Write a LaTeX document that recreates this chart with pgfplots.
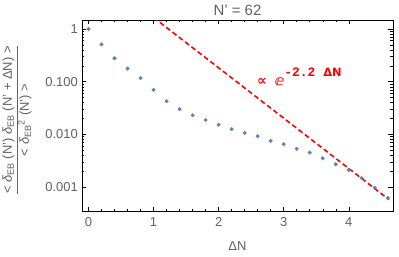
\documentclass[border=0pt]{standalone}
\usepackage{fontspec}
\setmainfont{Liberation Sans}
\newfontfamily\dejavu{DejaVu Sans}
\newfontfamily\monob{Liberation Mono}
\usepackage{pgfplots}
\pgfplotsset{compat=1.18}
\definecolor{txtgray}{rgb}{0.38,0.38,0.38}
\definecolor{ptblue}{HTML}{5E81B5}
\begin{document}
\begin{tikzpicture}
\begin{axis}[
  scale only axis,
  width=311bp, height=191bp,
  ymode=log,
  xmin=-0.1, xmax=4.68,
  ymin=3.5e-4, ymax=1.48,
  xtick={0,1,2,3,4},
  minor x tick num=4,
  ytick={0.001,0.01,0.1,1},
  yticklabels={0.001,0.010,0.100,1},
  tick align=inside,
  major tick length=4.5bp,
  minor tick length=2.5bp,
  every tick/.style={black, line width=0.45pt},
  axis line style={black, line width=0.8pt},
  tick label style={font=\fontsize{13}{15}\selectfont, text=txtgray},
  /pgf/number format/assume math mode=true,
  xticklabel style={anchor=base, inner sep=0pt, yshift=-15.6bp},
  yticklabel style={anchor=east, inner sep=0pt, xshift=-4bp},
  every axis title shift=0pt,
  title={N' = 62},
  title style={font=\fontsize{15}{17}\selectfont, text=txtgray, at={(rel axis cs:0.5,1)}, anchor=base, inner sep=0pt, yshift=5bp},
  xlabel={ΔN},
  xlabel style={font=\fontsize{13}{15}\selectfont, text=txtgray, at={(rel axis cs:0.5,0)}, anchor=center, inner sep=0pt, yshift=-35bp},
  clip=true,
]
\addplot[only marks, mark=*, mark size=1.8bp, ptblue, mark options={draw=ptblue, fill=ptblue}] coordinates {
(0.0,1.0) (0.2,0.51) (0.4,0.278) (0.6,0.177) (0.8,0.117) (1.0,0.070)
(1.2,0.0425) (1.4,0.030) (1.6,0.023) (1.8,0.0187) (2.0,0.0152) (2.2,0.0125)
(2.4,0.0106) (2.6,0.0092) (2.8,0.0075) (3.0,0.0065) (3.2,0.0053) (3.4,0.0045)
(3.6,0.0035) (3.8,0.0027) (4.0,0.0021) (4.2,0.00147) (4.4,0.00097) (4.6,0.00062)
};
\addplot[red, line width=1.6pt, dash pattern=on 5pt off 3pt] coordinates {
(1.0,1.651) (4.62,0.000574)
};
\node[anchor=base west, text=red, inner sep=0pt] at (axis cs:2.587,0.083)
  {{\dejavu\bfseries\fontsize{14}{16}\selectfont ∝\hspace{8bp}ⅇ}\raisebox{9bp}{\monob\bfseries\fontsize{13}{15}\selectfont -2.2 {\dejavu\fontsize{11.5}{13}\selectfont ΔN}}};
\end{axis}
\node[rotate=90, text=txtgray, font=\fontsize{13}{15}\selectfont] at (-65bp,91bp)
  {$\displaystyle\frac{\mbox{< \textit{δ}\textsubscript{EB} (N') \textit{δ}\textsubscript{EB} (N' + ΔN) >}}{\mbox{< \textit{δ}\textsubscript{EB}\textsuperscript{2} (N') >}}$};
\pgfresetboundingbox
\path[use as bounding box] (-82bp,-46bp) rectangle (317bp,211bp);
\end{tikzpicture}
\end{document}
